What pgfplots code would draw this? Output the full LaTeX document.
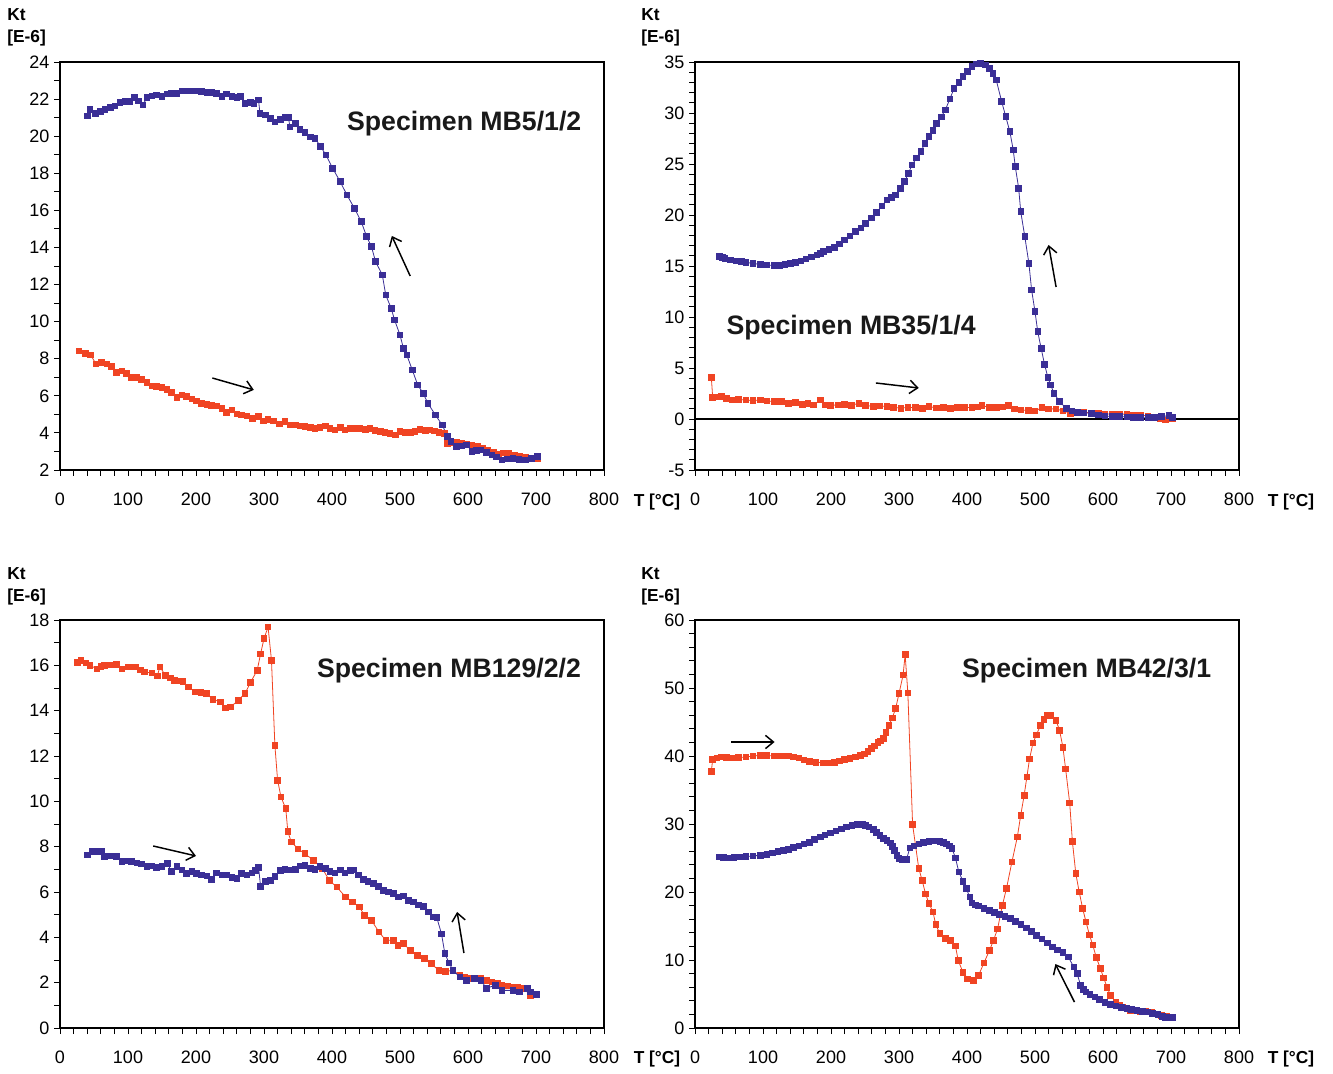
\documentclass[border=0pt]{standalone}
\usepackage{pgfplots}
\pgfplotsset{compat=1.18}
\usepackage{fontspec}
\setmainfont{Liberation Sans}
\usetikzlibrary{arrows.meta}

\definecolor{kblue}{RGB}{58,46,150}
\definecolor{kred}{RGB}{240,68,35}

\pgfplotsset{
  panel/.style={
    scale only axis, width=408pt, height=306pt,
    xmin=0, xmax=800, xtick={0,100,...,800}, minor x tick num=4,
    tick align=outside, tick pos=left,
    axis line style={line width=0.8pt},
    major tick length=4.5pt, minor tick length=4.5pt,
    every tick/.style={black, line width=0.7pt},
    ticklabel style={font=\fontsize{13.5}{16}\selectfont},
    xticklabel style={yshift=-9pt},
    /pgf/number format/assume math mode=true,
    clip=false,
  },
  heat/.style={kred, mark=square*, mark size=2.1pt, line width=0.6pt, mark options={solid}},
  cool/.style={kblue, mark=square*, mark size=2.1pt, line width=0.6pt, mark options={solid}},
}
\tikzset{
  arr/.style={black, line width=1.1pt, -{Straight Barb[length=6pt,width=10pt]}},
  spec/.style={font=\bfseries\fontsize{20}{24}\selectfont, text=black!90},
}
\newcommand\ylab[2]{\node[anchor=north west, inner sep=0pt, align=left,
  font=\bfseries\fontsize{13}{16.5}\selectfont] at (#1,#2) {Kt\\{}{[E-6]}};}
\newcommand\xlab[2]{\node[font=\bfseries\fontsize{13}{16}\selectfont] at (#1,#2) {T [°C]};}

\begin{document}
\begin{tikzpicture}
\useasboundingbox (0,0) rectangle (999.75pt,804.75pt);

% ---- top left: MB5/1/2
\begin{axis}[panel, at={(45pt,452.25pt)}, anchor=south west,
  ymin=2, ymax=24, ytick={2,4,...,24}, minor y tick num=1]
\addplot[heat] coordinates {
(28,8.42) (37,8.30) (45,8.20) (53,7.72) (61,7.79) (69,7.72) (76,7.57) (83,7.27)
(91,7.34) (98,7.22) (105,7.00) (113,7.00) (120,6.89) (128,6.71) (135,6.53)
(142,6.50) (150,6.46) (157,6.36) (164,6.17) (172,5.92) (179,6.05) (186,5.96)
(194,5.83) (201,5.73) (208,5.60) (216,5.55) (223,5.48) (230,5.46) (238,5.33)
(245,5.10) (253,5.24) (260,5.02) (267,4.97) (275,4.92) (283,4.79) (292,4.88)
(299,4.65) (306,4.74) (314,4.65) (323,4.49) (331,4.61) (338,4.43) (346,4.43)
(353,4.38) (360,4.34) (368,4.30) (375,4.25) (382,4.30) (390,4.38) (397,4.25)
(404,4.16) (412,4.30) (419,4.16) (427,4.25) (434,4.25) (441,4.25) (449,4.20)
(456,4.25) (463,4.12) (471,4.07) (478,4.02) (485,3.98) (493,3.89) (500,4.07)
(507,4.02) (515,4.02) (522,4.07) (529,4.20) (537,4.12) (544,4.16) (551,4.10)
(557,4.04) (565,3.98) (570,3.44) (577,3.47) (583,3.49) (590,3.42) (598,3.39)
(606,3.33) (614,3.26) (621,3.15) (629,3.08) (637,2.95) (645,2.85) (652,2.92)
(660,2.90) (668,2.80) (676,2.72) (684,2.68) (692,2.60) (702,2.63)
};
\addplot[cool] coordinates {
(40,21.10) (44,21.45) (52,21.23) (59,21.32) (66,21.45) (74,21.56) (81,21.63)
(88,21.81) (96,21.86) (103,21.86) (109,22.10) (115,21.91) (122,21.68)
(128,22.10) (135,22.18) (142,22.22) (150,22.13) (157,22.27) (164,22.31)
(172,22.31) (179,22.44) (186,22.44) (194,22.45) (201,22.44) (208,22.40)
(216,22.35) (223,22.35) (230,22.31) (238,22.13) (245,22.27) (253,22.16)
(260,22.10) (265,22.16) (272,21.77) (280,21.82) (285,21.77) (292,21.95)
(294,21.23) (302,21.14) (309,20.96) (316,20.78) (324,20.90) (331,21.02)
(336,21.02) (338,20.51) (346,20.69) (353,20.37) (360,20.19) (368,19.97)
(375,19.89) (383,19.45) (391,18.99) (401,18.27) (412,17.55)
(422,16.83) (433,16.11) (443,15.39) (451,14.58) (458,14.05) (464,13.24)
(474,12.52) (479,11.44) (487,10.72) (492,10.09) (500,9.28) (505,8.56)
(510,8.20) (518,7.40) (526,6.59) (534,6.14) (541,5.60) (552,4.97) (562,4.43)
(570,3.80) (575,3.53) (583,3.26) (590,3.30) (598,3.35) (606,2.99) (612,3.05)
(619,3.08) (627,2.95) (635,2.81) (642,2.70) (650,2.54) (658,2.60) (666,2.63)
(675,2.58) (684,2.54) (693,2.62) (702,2.72)
};
\draw[arr] (axis cs:515,12.46) -- (axis cs:488,14.62);
\draw[arr] (axis cs:224,6.96) -- (axis cs:285,6.32);
\node[spec] at (rel axis cs:0.743,0.85) {Specimen MB5/1/2};
\end{axis}

% ---- top right: MB35/1/4
\begin{axis}[panel, at={(521.25pt,452.25pt)}, anchor=south west,
  ymin=-5, ymax=35, ytick={-5,0,...,35}, minor y tick num=4]
\draw[black, line width=0.8pt] (axis cs:0,0) -- (axis cs:800,0);
\addplot[heat] coordinates {
(24,4.08) (26,2.12) (32,2.15) (39,2.19) (46,2.00) (54,1.86) (64,1.90) (75,1.86)
(85,1.80) (96,1.86) (106,1.78) (117,1.70) (127,1.75) (137,1.54) (148,1.60)
(158,1.44) (166,1.50) (174,1.37) (184,1.86) (191,1.40) (199,1.31) (210,1.40)
(220,1.44) (230,1.35) (241,1.54) (251,1.35) (262,1.21) (272,1.30) (282,1.21)
(292,1.15) (303,1.05) (313,1.15) (324,1.11) (334,1.05) (344,1.21) (355,1.10)
(365,1.11) (376,1.05) (386,1.11) (396,1.15) (407,1.11) (415,1.20) (422,1.31)
(433,1.15) (443,1.11) (452,1.20) (461,1.31) (470,1.00) (479,0.88) (490,0.85)
(500,0.78) (510,1.11) (520,1.00) (531,0.98) (541,0.80) (552,0.56) (562,0.70)
(572,0.65) (583,0.60) (593,0.56) (603,0.50) (614,0.46) (624,0.50) (635,0.46)
(645,0.40) (655,0.39) (666,0.30) (676,0.13) (684,0.05) (692,-0.10) (702,0.07)
};
\addplot[cool] coordinates {
(36,15.92) (40,15.85) (44,15.75) (52,15.60) (60,15.49) (68,15.45) (75,15.36)
(85,15.25) (96,15.16) (106,15.10) (117,15.03) (125,15.08) (132,15.16)
(140,15.25) (148,15.36) (156,15.50) (163,15.69) (171,15.90) (179,16.08)
(184,16.25) (189,16.41) (197,16.60) (205,16.80) (212,17.15) (220,17.55)
(228,17.95) (236,18.37) (244,18.75) (251,19.18) (259,19.70) (267,20.26)
(275,20.90) (282,21.47) (289,21.70) (295,21.96) (302,22.60) (308,23.27)
(314,24.10) (319,24.90) (326,25.60) (332,26.21) (338,27.00) (344,27.68)
(350,28.30) (355,28.99) (362,29.60) (368,30.29) (375,31.40) (381,32.42)
(388,33.00) (394,33.56) (401,34.10) (407,34.54) (414,34.80) (420,34.87)
(427,34.70) (433,34.38) (438,33.90) (443,33.24) (451,31.11)
(457,29.64) (463,28.17) (468,26.37) (471,24.74) (476,22.61) (479,20.33)
(485,17.88) (491,15.26) (495,12.65) (500,10.52) (504,8.56) (509,6.93)
(514,5.36) (519,4.05) (523,3.33) (528,2.52) (536,1.70) (546,1.05) (554,0.80)
(562,0.65) (572,0.60) (583,0.56) (593,0.40) (603,0.29) (614,0.25) (624,0.23)
(635,0.20) (645,0.13) (655,0.13) (666,0.13) (676,0.15) (686,0.23) (697,0.33)
(702,0.13)
};
\draw[arr] (axis cs:531,12.94) -- (axis cs:520,17.06);
\draw[arr] (axis cs:266,3.53) -- (axis cs:329,3.04);
\node[spec] at (rel axis cs:0.287,0.348) {Specimen MB35/1/4};
\end{axis}

% ---- bottom left: MB129/2/2
\begin{axis}[panel, at={(45pt,33.75pt)}, anchor=south west,
  ymin=0, ymax=18, ytick={0,2,...,18}, minor y tick num=1]
\addplot[heat] coordinates {
(26,16.12) (31,16.22) (38,16.10) (44,16.00) (54,15.85) (60,15.95) (65,16.00)
(74,16.02) (83,16.03) (91,15.85) (101,15.93) (111,15.93) (118,15.80)
(124,15.71) (135,15.66) (143,15.53) (147,15.93) (155,15.56) (162,15.45)
(168,15.34) (175,15.32) (181,15.29) (189,15.04) (199,14.82) (207,14.80)
(215,14.75) (225,14.50) (236,14.38) (243,14.12) (251,14.16) (262,14.46)
(272,14.75) (280,15.24) (290,15.78) (295,16.51) (300,17.18) (306,17.69)
(311,16.22) (316,12.47) (320,10.93) (325,10.19) (332,9.68) (335,8.68)
(340,8.21) (350,7.91) (360,7.69) (373,7.40) (386,7.03) (396,6.51) (407,6.22)
(420,5.78) (430,5.56) (440,5.34) (448,4.97) (458,4.75) (469,4.24) (479,3.87)
(490,3.87) (497,3.65) (505,3.72) (515,3.43) (526,3.21) (536,3.06) (546,2.84)
(557,2.54) (567,2.50) (578,2.54) (588,2.32) (595,2.25) (603,2.18) (611,2.20)
(619,2.18) (627,2.10) (635,2.03) (643,1.97) (650,1.91) (658,1.86) (666,1.81)
(673,1.78) (681,1.76) (692,1.44) (699,1.51)
};
\addplot[cool] coordinates {
(40,7.63) (47,7.78) (54,7.78) (61,7.78) (65,7.56) (74,7.59) (83,7.56) (91,7.34)
(98,7.38) (105,7.34) (113,7.29) (120,7.24) (128,7.12) (135,7.15) (142,7.09)
(150,7.12) (158,7.27) (164,6.90) (172,7.12) (179,6.97) (186,6.83) (194,6.90)
(201,6.83) (208,6.75) (216,6.71) (223,6.56) (230,6.85) (238,6.75) (245,6.75)
(253,6.65) (260,6.60) (267,6.83) (275,6.75) (282,6.85) (287,6.94) (292,7.09)
(295,6.24) (302,6.46) (309,6.50) (316,6.68) (324,6.94) (331,7.00) (338,6.97)
(346,7.00) (353,7.15) (360,7.18) (368,7.05) (375,7.00) (382,7.12) (390,7.05)
(397,6.90) (404,6.85) (412,6.97) (419,6.85) (427,6.94) (432,6.97) (439,6.75)
(446,6.56) (453,6.46) (461,6.38) (468,6.24) (476,6.06) (483,6.01) (490,5.94)
(498,5.79) (505,5.82) (512,5.62) (520,5.57) (527,5.43) (534,5.37) (542,5.13)
(549,4.91) (554,4.88) (561,4.16) (566,3.28) (572,2.88) (578,2.54) (588,2.25)
(598,2.10) (609,2.18) (619,2.10) (627,1.76) (640,1.88) (650,1.66) (666,1.66)
(676,1.59) (687,1.76) (692,1.59) (701,1.47)
};
\draw[arr] (axis cs:137,8.03) -- (axis cs:200,7.59);
\draw[arr] (axis cs:594,3.31) -- (axis cs:584,5.12);
\node[spec] at (rel axis cs:0.715,0.875) {Specimen MB129/2/2};
\end{axis}

% ---- bottom right: MB42/3/1
\begin{axis}[panel, at={(521.25pt,33.75pt)}, anchor=south west,
  ymin=0, ymax=60, ytick={0,10,...,60}, minor y tick num=4]
\addplot[heat] coordinates {
(24,37.75) (26,39.50) (32,39.70) (39,39.85) (46,39.80) (54,39.70) (64,39.80)
(75,39.85) (85,40.00) (96,40.10) (106,40.05) (117,40.00) (127,40.00)
(137,40.00) (145,39.85) (153,39.70) (160,39.45) (168,39.20) (178,39.10)
(189,39.00) (197,39.00) (205,39.10) (212,39.30) (220,39.50) (228,39.65)
(236,39.85) (243,40.10) (249,40.30) (254,40.70) (259,41.10) (264,41.50)
(269,41.96) (273,42.20) (277,42.55) (281,43.50) (285,44.50)
(290,45.60) (295,46.96) (300,49.20) (306,51.90) (309,54.90) (313,49.30)
(320,29.90) (329,23.50) (334,21.70) (339,19.75) (344,18.30) (350,17.06)
(354,15.20) (360,13.90) (368,13.20) (376,12.90) (383,12.06) (387,9.95)
(394,8.20) (401,7.25) (409,7.00) (417,7.75) (425,9.60) (433,11.40)
(439,12.90) (445,14.60) (452,18.04) (458,20.50) (466,24.40) (474,28.10)
(479,31.30) (484,34.20) (488,36.90) (492,39.60) (497,41.90) (502,43.10)
(508,44.50) (513,45.40) (518,45.98) (523,45.98) (531,45.20) (536,43.80)
(541,41.30) (545,38.10) (551,33.10) (555,27.40) (560,22.70) (565,20.00)
(570,17.60) (575,15.60) (580,13.70) (585,12.20) (590,10.40) (596,8.80)
(601,7.35) (606,6.00) (611,4.80) (619,3.80) (624,3.40) (629,3.10) (635,2.80)
(640,2.60) (648,2.50) (655,2.45) (663,2.40) (671,2.35) (678,2.10) (686,1.86)
(694,1.70) (702,1.60)
};
\addplot[cool] coordinates {
(36,25.15) (42,25.10) (49,25.00) (57,25.10) (65,25.15) (75,25.20) (85,25.30)
(96,25.40) (106,25.50) (114,25.75) (122,26.00) (130,26.15) (137,26.30)
(145,26.55) (153,26.80) (160,27.05) (168,27.30) (176,27.70) (184,28.10)
(191,28.40) (199,28.70) (207,29.00) (215,29.30) (223,29.55) (231,29.80)
(238,29.90) (246,29.90) (251,29.80) (256,29.56) (262,29.20) (267,28.80)
(272,28.35) (277,27.90) (282,27.60) (287,27.25) (290,26.70) (293,26.10)
(297,25.40) (300,24.90) (305,24.80) (311,24.80) (316,26.50) (322,26.80)
(329,27.10) (336,27.30) (344,27.45) (352,27.50) (360,27.45) (365,27.30)
(370,27.10) (374,26.80) (378,26.40) (383,25.00) (388,22.94) (394,21.60)
(399,20.50) (404,19.26) (407,18.40) (412,18.10) (417,17.94) (425,17.60)
(433,17.30) (440,17.00) (448,16.67) (456,16.40) (464,16.10) (471,15.65)
(479,15.20) (487,14.70) (495,14.20) (502,13.65) (510,13.10) (518,12.50)
(526,11.90) (533,11.50) (541,11.08) (549,10.44) (557,8.97) (562,8.00)
(567,6.27) (571,5.70) (575,5.30) (581,4.90) (588,4.56) (595,4.20) (603,3.80)
(611,3.50) (619,3.24) (627,3.00) (635,2.84) (642,2.70) (650,2.60) (658,2.45)
(666,2.35) (673,2.15) (681,1.96) (687,1.75) (692,1.60) (697,1.60) (702,1.60)
};
\draw[arr] (axis cs:53,42.06) -- (axis cs:117,42.06);
\draw[arr] (axis cs:558,3.82) -- (axis cs:530,9.41);
\node[spec] at (rel axis cs:0.72,0.875) {Specimen MB42/3/1};
\end{axis}

\ylab{5.25pt}{798.5pt}
\ylab{480.75pt}{798.5pt}
\ylab{5.25pt}{379.5pt}
\ylab{480.75pt}{379.5pt}
\xlab{492.75pt}{428pt}
\xlab{968.25pt}{428pt}
\xlab{492.75pt}{10.5pt}
\xlab{968.25pt}{10.5pt}
\end{tikzpicture}
\end{document}
